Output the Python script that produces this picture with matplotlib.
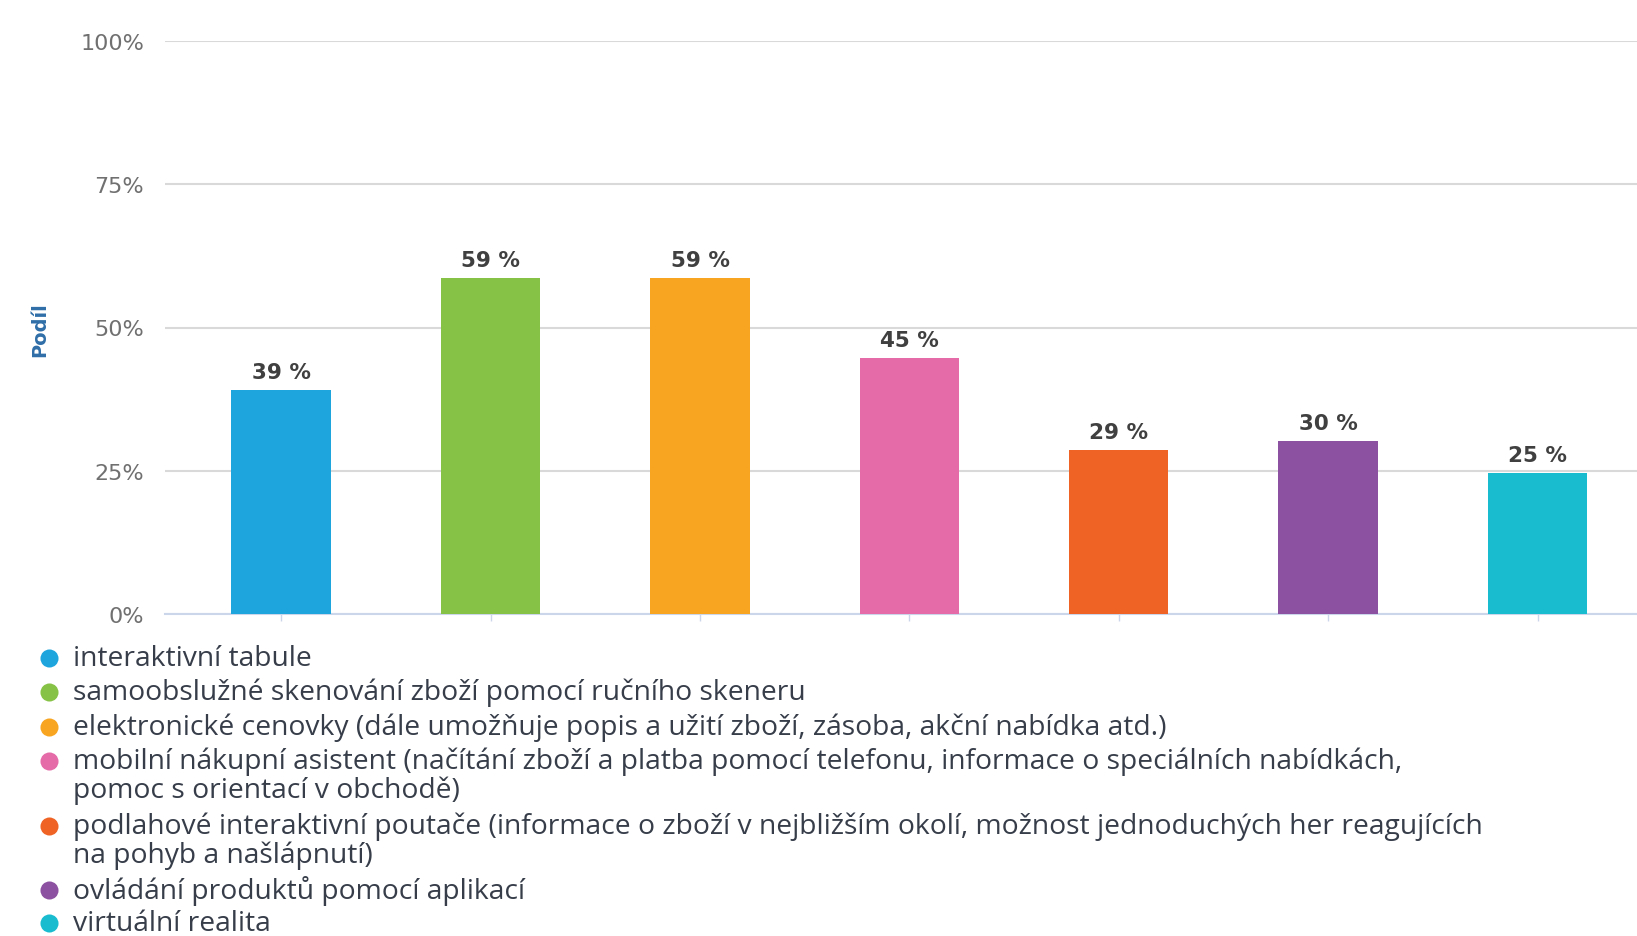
import matplotlib
matplotlib.use("Agg")
import matplotlib.pyplot as plt
from matplotlib.lines import Line2D

categories = [
    "interaktivní tabule",
    "samoobslužné skenování zboží pomocí ručního skeneru",
    "elektronické cenovky (dále umožňuje popis a užití zboží, zásoba, akční nabídka atd.)",
    "mobilní nákupní asistent (načítání zboží a platba pomocí telefonu, informace o speciálních nabídkách,\npomoc s orientací v obchodě)",
    "podlahové interaktivní poutače (informace o zboží v nejbližším okolí, možnost jednoduchých her reagujících\nna pohyb a našlápnutí)",
    "ovládání produktů pomocí aplikací",
    "virtuální realita",
]
values = [39.1, 58.6, 58.6, 44.6, 28.6, 30.2, 24.6]
colors = ["#1fa5de", "#86c246", "#f8a622", "#e46aa8", "#ef6424", "#8c51a0", "#19bccf"]
y_ticks = [0, 25, 50, 75, 100]
y_tick_labels = ["0%", "25%", "50%", "75%", "100%"]
y_label = "Podíl"

W, H = 1637, 937
fig = plt.figure(figsize=(W / 100, H / 100), dpi=100)
fig.patch.set_facecolor("white")

ax_left = 165 / W
ax_bottom = (H - 615) / H
ax_top = (H - 42) / H
ax = fig.add_axes([ax_left, ax_bottom, 1.0 - ax_left, ax_top - ax_bottom])

x = list(range(len(values)))
ax.bar(x, values, width=0.475, color=colors, zorder=3)
for xi, v in zip(x, values):
    ax.text(xi, v + 1.4, f"{round(v)} %", ha="center", va="bottom", fontsize=15.5,
            fontweight="bold", color="#404040", family="DejaVu Sans", zorder=4)

ax.set_ylim(0, 100)
ax.set_xlim(-0.555, 6.475)
ax.set_yticks(y_ticks)
ax.set_yticklabels(y_tick_labels)
ax.yaxis.grid(True, color="#d9d9d9", linewidth=1.5, zorder=0)
ax.set_axisbelow(True)
for s in ["top", "right", "left"]:
    ax.spines[s].set_visible(False)
ax.spines["bottom"].set_color("#ccd6eb")
ax.spines["bottom"].set_linewidth(1.5)
ax.spines["bottom"].set_zorder(2)
ax.set_xticks(x)
ax.set_xticklabels([""] * len(x))
ax.tick_params(axis="x", length=5, color="#ccd6eb", width=1)
ax.tick_params(axis="y", length=0, pad=15, labelsize=16, labelcolor="#707070")

fig.text(40 / W, (H - 330) / H, y_label, rotation=90, ha="center", va="center",
         fontsize=14, fontweight="bold", color="#2f6ea8", family="DejaVu Sans")

# legend
legend_y = [659, 693, 728, 762, 827, 891, 924]
line_gap = 29
for yy, c, lab in zip(legend_y, colors, categories):
    yf = (H - yy) / H
    fig.add_artist(Line2D([49 / W], [yf], marker="o", markersize=13, color=c,
                          markeredgewidth=0, transform=fig.transFigure))
    for k, line in enumerate(lab.split("\n")):
        fig.text(73 / W, (H - yy - k * line_gap) / H, line, ha="left", va="center",
                 fontsize=20.3, color="#373e4a", family="Open Sans")

fig.savefig("out.png", dpi=100)
